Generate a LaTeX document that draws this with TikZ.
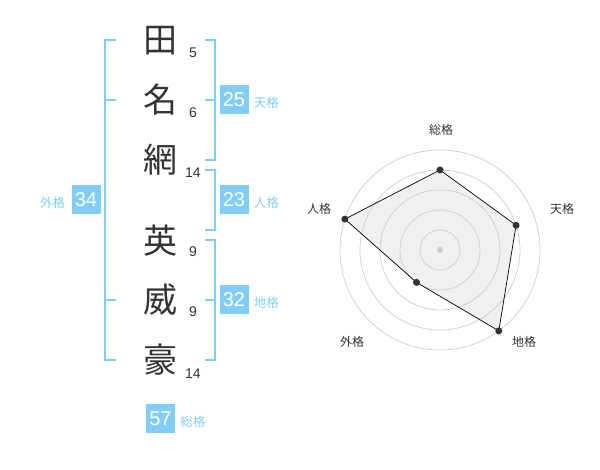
\documentclass[tikz,border=0pt]{standalone}
\usepackage{fontspec}
\setmainfont{Liberation Sans}
\newfontfamily\cjk{Noto Sans CJK JP}
\usetikzlibrary{positioning}
\definecolor{KakuBlue}{HTML}{82CDF5}
\definecolor{KakuText}{HTML}{333333}
\definecolor{RingGray}{HTML}{CCCCCC}
\definecolor{AreaGray}{HTML}{F0F0F0}
\definecolor{DotGray}{HTML}{C8C8C8}

\begin{document}
\begin{tikzpicture}[x=1pt, y=1pt,
	kanji/.style={text=KakuText, inner sep=0pt, font=\cjk\fontsize{34}{34}\selectfont},
	strokes/.style={text=KakuText, inner sep=0pt, font=\fontsize{14}{14}\selectfont},
	kakubox/.style={fill=KakuBlue, text=white, minimum size=29pt, inner sep=0pt, font=\fontsize{20}{20}\selectfont},
	kakuname/.style={text=KakuBlue, inner sep=0pt, font=\cjk\fontsize{12.5}{12.5}\selectfont},
	bracket/.style={KakuBlue, line width=2pt},
	ring/.style={RingGray, line width=0.7pt},
	axisname/.style={text=KakuText, inner sep=0pt, font=\cjk\fontsize{12}{12}\selectfont}]
	
	\useasboundingbox (0,0) rectangle (600,470);
	
	% name, one character per line
	\node[kanji] (c1) at (160,429) {田};
	\node[kanji] (c2) at (160,370) {名};
	\node[kanji] (c3) at (160,310) {網};
	\node[kanji] (c4) at (160,229) {英};
	\node[kanji] (c5) at (160,170) {威};
	\node[kanji] (c6) at (160,110) {豪};
	
	\node[strokes] (s1) at (193,417) {5};
	\node[strokes] (s2) at (193,357) {6};
	\node[strokes] (s3) at (193,297) {14};
	\node[strokes] (s4) at (193,218) {9};
	\node[strokes] (s5) at (193,158) {9};
	\node[strokes] (s6) at (193,96) {14};
	
	% brackets
	\draw[bracket] (116,430) -- (105,430) -- (105,110) -- (116,110);
	\draw[bracket] (105,370) -- (116,370);
	\draw[bracket] (105,170) -- (116,170);
	
	\draw[bracket] (205,430) -- (215,430) -- (215,310) -- (205,310);
	\draw[bracket] (205,370) -- (215,370);
	
	\draw[bracket] (205,300) -- (215,300) -- (215,240) -- (205,240);
	
	\draw[bracket] (205,230) -- (215,230) -- (215,110) -- (205,110);
	\draw[bracket] (205,170) -- (215,170);
	
	% totals
	\node[kakubox] (ten) at (234,370) {25};
	\node[kakuname, right=5pt of ten, yshift=-3pt] (tenname) {天格};
	
	\node[kakubox] (jin) at (234,270) {23};
	\node[kakuname, right=5pt of jin, yshift=-3pt] (jinname) {人格};
	
	\node[kakubox] (chi) at (234,170) {32};
	\node[kakuname, right=5pt of chi, yshift=-3pt] (chiname) {地格};
	
	\node[kakubox] (gai) at (86,270) {34};
	\node[kakuname, left=6pt of gai, yshift=-3pt] (gainame) {外格};
	
	\node[kakubox] (so) at (160.5,51) {57};
	\node[kakuname, right=5pt of so, yshift=-3pt] (soname) {総格};
	
	% radar chart
	\coordinate (C) at (440,220);
	\path (C) ++(90:80) coordinate (pSo);
	\path (C) ++(18:80) coordinate (pTen);
	\path (C) ++(-54:100) coordinate (pChi);
	\path (C) ++(-126:40) coordinate (pGai);
	\path (C) ++(162:100) coordinate (pJin);
	
	\fill[AreaGray] (pSo) -- (pTen) -- (pChi) -- (pGai) -- (pJin) -- cycle;
	
	\foreach \r in {20,40,60,80,100}
		\draw[ring] (C) circle (\r pt);
	
	\fill[DotGray] (C) circle (3pt);
	
	\draw[black, line width=0.7pt] (pSo) -- (pTen) -- (pChi) -- (pGai) -- (pJin) -- cycle;
	
	\foreach \p in {pSo,pTen,pChi,pGai,pJin}
		\fill[KakuText] (\p) circle (3.5pt);
	
	\node[axisname] (aSo) at (441,340) {総格};
	\node[axisname] (aTen) at (562,261) {天格};
	\node[axisname] (aChi) at (524,128) {地格};
	\node[axisname] (aGai) at (352,128) {外格};
	\node[axisname] (aJin) at (319,261) {人格};
\end{tikzpicture}
\end{document}
